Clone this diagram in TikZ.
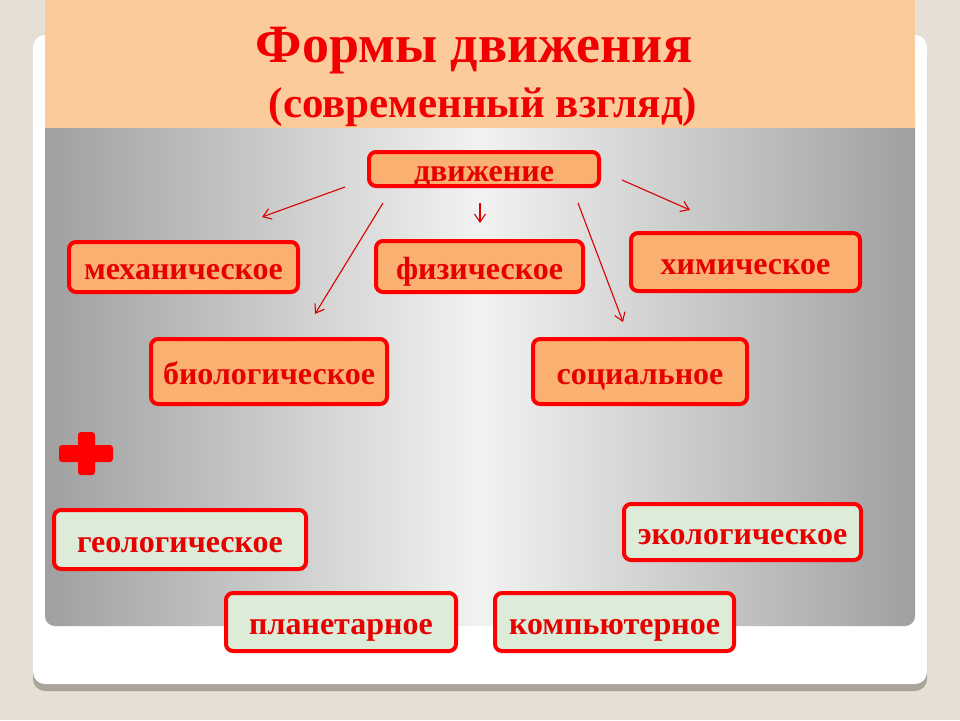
\documentclass[tikz,border=0pt]{standalone}
\usepackage{fontspec}
\setmainfont{Liberation Serif}
\usetikzlibrary{arrows.meta}
\definecolor{bgbeige}{HTML}{E5DFD5}
\definecolor{peach}{HTML}{FBCB9C}
\definecolor{boxorange}{HTML}{FAB071}
\definecolor{boxgreen}{HTML}{DDEBD9}
\definecolor{bordred}{HTML}{FF0000}
\definecolor{txtred}{HTML}{E60000}
\definecolor{titred}{HTML}{F00000}
\definecolor{shadowgray}{HTML}{A9A59D}
\definecolor{edgegray}{HTML}{A0A0A0}
\definecolor{midgray}{HTML}{F2F2F2}
\tikzset{
  formbox/.style={draw=bordred, line width=4pt, rounded corners=7pt, inner sep=0pt,
    font=\fontsize{32}{36}\selectfont\bfseries, text=txtred,
    text height=25pt, text depth=0pt},
  orangebox/.style={formbox, fill=boxorange},
  greenbox/.style={formbox, fill=boxgreen},
  arr/.style={draw=bordred!85!black, line width=1.1pt, -{Straight Barb[length=8pt,width=11pt,line width=1.1pt]}},
  titletext/.style={text=titred, font=\bfseries, anchor=base, inner sep=0pt}
}
\begin{document}
\begin{tikzpicture}[x=1pt,y=-1pt]
\useasboundingbox (0,0) rectangle (960,720);
\fill[bgbeige] (0,0) rectangle (960,720);
% card shadow and card
\fill[shadowgray, rounded corners=12pt] (33,44) rectangle (927,691);
\fill[white, rounded corners=12pt] (33,35) rectangle (927,684);
% gray gradient panel
\shade[left color=edgegray, right color=edgegray, middle color=midgray, rounded corners=10pt] (45,100) rectangle (915,626);
% peach title band
\fill[peach] (45,0) rectangle (915,128);
% title
\node[titletext, font=\fontsize{54}{60}\selectfont\bfseries] (t1) at (474,62) {Формы движения};
\node[titletext, font=\fontsize{43}{50}\selectfont\bfseries] (t2) at (483,117) {(современный взгляд)};
% nodes
\node[orangebox, minimum width=230pt, minimum height=34pt] (dv) at (484,169) {движение};
\node[orangebox, minimum width=229pt, minimum height=50pt] (mex) at (183.5,267) {механическое};
\node[orangebox, minimum width=207pt, minimum height=51pt] (fiz) at (479.5,266.5) {физическое};
\node[orangebox, minimum width=229pt, minimum height=58pt] (xim) at (745.5,262) {химическое};
\node[orangebox, minimum width=236pt, minimum height=65pt] (bio) at (269,371.5) {биологическое};
\node[orangebox, minimum width=214pt, minimum height=65pt] (soc) at (640,371.5) {социальное};
\node[greenbox, minimum width=252pt, minimum height=59pt] (geo) at (180,539.5) {геологическое};
\node[greenbox, minimum width=237pt, minimum height=56pt] (eco) at (742.5,532) {экологическое};
\node[greenbox, minimum width=230pt, minimum height=58pt] (pla) at (341,622) {планетарное};
\node[greenbox, minimum width=239pt, minimum height=58pt] (kom) at (614.5,622) {компьютерное};
% arrow coordinates
\coordinate (a1s) at (345,187);
\coordinate (a1e) at (262,217);
\coordinate (a2s) at (383,203);
\coordinate (a2e) at (315,314);
\coordinate (a3s) at (480,203);
\coordinate (a3e) at (480,223);
\coordinate (a4s) at (578,203);
\coordinate (a4e) at (623,322);
\coordinate (a5s) at (622,180);
\coordinate (a5e) at (690,210);
\draw[arr] (a1s) -- (a1e);
\draw[arr] (a2s) -- (a2e);
\draw[arr] (a3s) -- (a3e);
\draw[arr] (a4s) -- (a4e);
\draw[arr] (a5s) -- (a5e);
% plus sign
\fill[bordred, rounded corners=3pt] (59,445) rectangle (113,462);
\fill[bordred, rounded corners=3pt] (78,432) rectangle (95,475);
\end{tikzpicture}
\end{document}
